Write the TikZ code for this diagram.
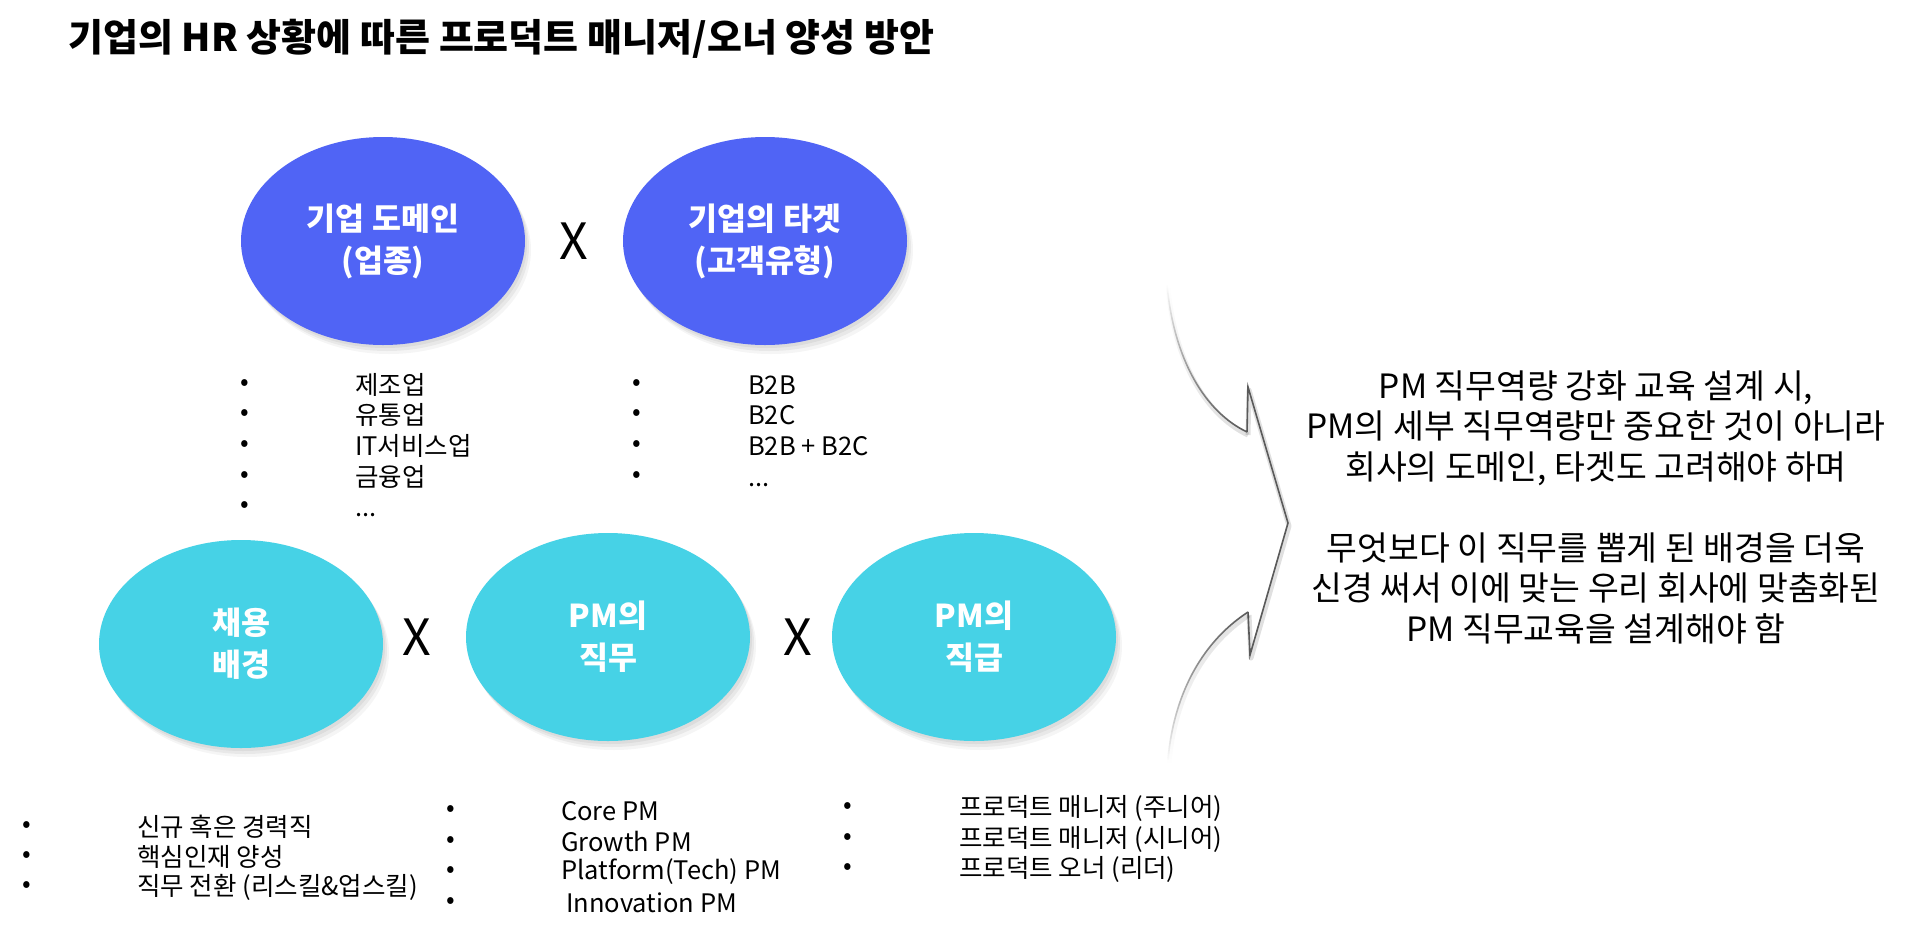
\documentclass[tikz,border=0pt]{standalone}
\usepackage{fontspec}
\setmainfont{Noto Sans CJK KR}
\usetikzlibrary{shapes.geometric,fadings}
\definecolor{topblue}{RGB}{80,100,245}
\definecolor{botcyan}{RGB}{70,210,230}
\definecolor{braceink}{RGB}{90,90,90}
\tikzfading[name=fadetop, top color=transparent!100, bottom color=transparent!0]
\tikzfading[name=fadebot, top color=transparent!0, bottom color=transparent!100]
\newcommand\mytitlefont{\fontsize{38}{44}\selectfont\bfseries}
\newcommand\mybubblefont{\fontsize{31.5}{42}\selectfont\bfseries}
\newcommand\mytimesfont{\fontsize{50}{50}\selectfont}
\newcommand\myitemfont{\fontsize{25.5}{30}\selectfont}
\newcommand\mynotefont{\fontsize{33.5}{40.5}\selectfont}
\begin{document}
\begin{tikzpicture}[x=1pt,y=-1pt,
  bubble/.style={ellipse, inner sep=0pt, minimum width=284pt, minimum height=208pt,
    text=white, font=\mybubblefont, align=center,
    preaction={fill=black, opacity=0.05, transform canvas={shift={(2,3)}}},
    preaction={fill=black, opacity=0.05, transform canvas={shift={(4,6)}}},
    preaction={fill=black, opacity=0.04, transform canvas={shift={(6,9)}}}},
  topbub/.style={bubble, fill=topblue},
  botbub/.style={bubble, fill=botcyan},
  timesmark/.style={font=\mytimesfont, inner sep=0pt},
  listitem/.style={anchor=west, font=\myitemfont, inner sep=0pt},
  listdot/.style={font=\myitemfont, inner sep=0pt},
  note/.style={align=center, font=\mynotefont, inner sep=0pt},
  braceline/.style={draw=braceink, line width=1.6pt, line join=miter},
  braceshadow/.style={draw=black, opacity=0.12, line width=5pt, line join=round}
]
\useasboundingbox (0,0) rectangle (1922,940);
\fill[white] (0,0) rectangle (1922,940);

% title
\node[anchor=west, inner sep=0pt, font=\mytitlefont] (title) at (68,39)
  {기업의 HR 상황에 따른 프로덕트 매니저/오너 양성 방안};

% top bubbles
\node[topbub] (dom) at (383,241) {기업 도메인\\(업종)};
\node[topbub] (tgt) at (765,241) {기업의 타겟\\(고객유형)};
\node[timesmark] (x1) at (574,241) {X};

% bottom bubbles
\node[botbub] (hire) at (241,644) {채용\\배경};
\node[botbub] (duty) at (608,637) {PM의\\직무};
\node[botbub] (rank) at (974,637) {PM의\\직급};
\node[timesmark] (x2) at (417,637) {X};
\node[timesmark] (x3) at (798,637) {X};

% domain list
\node[listdot] (dd1) at (245,385) {•};
\node[listdot] (dd2) at (245,415) {•};
\node[listdot] (dd3) at (245,446) {•};
\node[listdot] (dd4) at (245,477) {•};
\node[listdot] (dd5) at (245,507) {•};
\node[listitem] (di1) at (355,385) {제조업};
\node[listitem] (di2) at (355,415) {유통업};
\node[listitem] (di3) at (355,446) {IT서비스업};
\node[listitem] (di4) at (355,477) {금융업};
\node[listitem, anchor=base west] (di5) at (355,516) {...};

% target list
\node[listdot] (td1) at (637,385) {•};
\node[listdot] (td2) at (637,415) {•};
\node[listdot] (td3) at (637,446) {•};
\node[listdot] (td4) at (637,477) {•};
\node[listitem] (ti1) at (748,385) {B2B};
\node[listitem] (ti2) at (748,415) {B2C};
\node[listitem] (ti3) at (748,446) {B2B + B2C};
\node[listitem, anchor=base west] (ti4) at (748,486) {...};

% hiring list
\node[listdot] (hd1) at (27,827) {•};
\node[listdot] (hd2) at (27,857) {•};
\node[listdot] (hd3) at (27,887) {•};
\node[listitem] (hi1) at (137,827) {신규 혹은 경력직};
\node[listitem] (hi2) at (137,857) {핵심인재 양성};
\node[listitem] (hi3) at (137,887) {직무 전환 (리스킬\&업스킬)};

% duty list
\node[listdot] (pd1) at (451,811) {•};
\node[listdot] (pd2) at (451,842) {•};
\node[listdot] (pd3) at (451,872) {•};
\node[listdot] (pd4) at (451,903) {•};
\node[listitem] (pi1) at (561,811) {Core PM};
\node[listitem] (pi2) at (561,842) {Growth PM};
\node[listitem] (pi3) at (561,872) {Platform(Tech) PM};
\node[listitem] (pi4) at (566,903) {Innovation PM};

% rank list
\node[listdot] (rd1) at (848,808) {•};
\node[listdot] (rd2) at (848,839) {•};
\node[listdot] (rd3) at (848,869) {•};
\node[listitem] (ri1) at (959,808) {프로덕트 매니저 (주니어)};
\node[listitem] (ri2) at (959,839) {프로덕트 매니저 (시니어)};
\node[listitem] (ri3) at (959,869) {프로덕트 오너 (리더)};

% brace
\coordinate (b1) at (1167,285);
\coordinate (b2) at (1247,432);
\coordinate (b3) at (1248,387);
\coordinate (b4) at (1288,523);
\coordinate (b5) at (1250,655);
\coordinate (b6) at (1248,612);
\coordinate (b7) at (1168,760);
\draw[braceshadow, transform canvas={shift={(1,3)}}] (b2) -- (b3) -- (b4) -- (b5) -- (b6);
\draw[braceline] (b2) -- (b3) -- (b4) -- (b5) -- (b6);
\draw[braceshadow, path fading=fadetop, transform canvas={shift={(1,3)}}] (b1) .. controls (1174,360) and (1205,412) .. (b2);
\draw[braceline, path fading=fadetop] (b1) .. controls (1174,360) and (1205,412) .. (b2);
\draw[braceshadow, path fading=fadebot, transform canvas={shift={(1,3)}}] (b6) .. controls (1205,640) and (1174,690) .. (b7);
\draw[braceline, path fading=fadebot] (b6) .. controls (1205,640) and (1174,690) .. (b7);

% note
\node[note] (msg) at (1596,507)
  {PM 직무역량 강화 교육 설계 시,\\
   PM의 세부 직무역량만 중요한 것이 아니라\\
   회사의 도메인, 타겟도 고려해야 하며\\[40.5pt]
   무엇보다 이 직무를 뽑게 된 배경을 더욱\\
   신경 써서 이에 맞는 우리 회사에 맞춤화된\\
   PM 직무교육을 설계해야 함};
\end{tikzpicture}
\end{document}
